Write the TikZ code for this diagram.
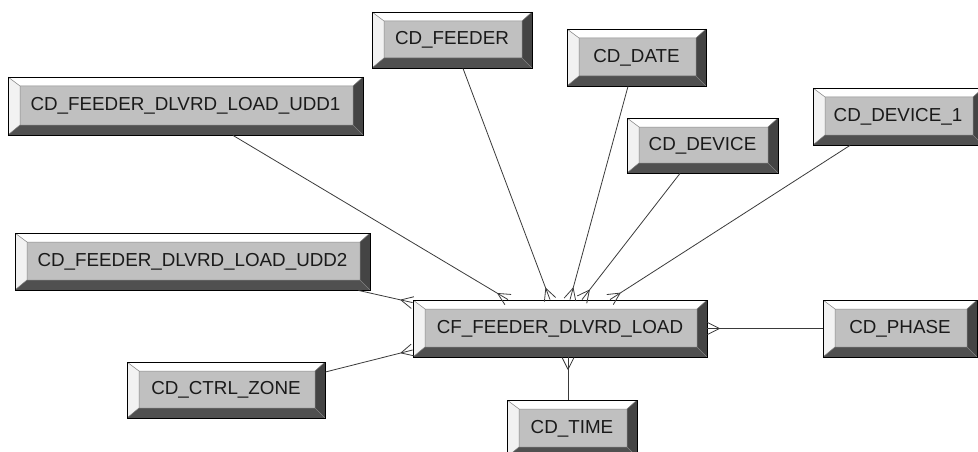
\documentclass[tikz,border=0pt]{standalone}
\usepackage{fontspec}
\setmainfont{Liberation Sans}
\usetikzlibrary{decorations.markings}

\definecolor{facegray}{HTML}{C0C0C0}
\definecolor{topbevel}{HTML}{FFFFFF}
\definecolor{leftbevel}{HTML}{F2F2F2}
\definecolor{botbevel}{HTML}{505050}
\definecolor{rightbevel}{HTML}{444444}
\definecolor{linegray}{HTML}{3A3A3A}
\definecolor{txtgray}{HTML}{1A1A1A}

\tikzset{
  entity/.style={draw=black, line width=0.8pt, fill=facegray, inner sep=0pt,
    text=txtgray, font=\fontsize{18.8pt}{22pt}\selectfont,
    path picture={
      \coordinate (bnw) at (path picture bounding box.north west);
      \coordinate (bne) at (path picture bounding box.north east);
      \coordinate (bsw) at (path picture bounding box.south west);
      \coordinate (bse) at (path picture bounding box.south east);
      \coordinate (inw) at ([xshift=12pt,yshift=-9pt]bnw);
      \coordinate (ine) at ([xshift=-10pt,yshift=-9pt]bne);
      \coordinate (isw) at ([xshift=12pt,yshift=10pt]bsw);
      \coordinate (ise) at ([xshift=-10pt,yshift=10pt]bse);
      % bevels
      \fill[topbevel] (bnw) -- (bne) -- (ine) -- (inw) -- cycle;
      \fill[leftbevel] (bnw) -- (inw) -- (isw) -- (bsw) -- cycle;
      \fill[botbevel] (bsw) -- (isw) -- (ise) -- (bse) -- cycle;
      \fill[rightbevel] (bne) -- (ine) -- (ise) -- (bse) -- cycle;
      \draw[gray, line width=0.5pt] (inw) rectangle (ise)
        (bnw) -- (inw) (bne) -- (ine) (bsw) -- (isw) (bse) -- (ise);
    }},
  rel/.style={draw=linegray, line width=0.8pt, postaction={decorate},
    decoration={markings, mark=at position 1 with {
      \draw[linegray, line width=0.8pt] (-12pt,0pt) -- (0pt,6pt)
        (-12pt,0pt) -- (0pt,-6pt);}}}
}

\begin{document}
\begin{tikzpicture}[x=1pt,y=-1pt]

  \useasboundingbox (0,0) rectangle (978,452);

  % entities
  \node[entity, minimum width=355pt, minimum height=58pt] (udd1) at (185.5,106) {CD\_FEEDER\_DLVRD\_LOAD\_UDD1};
  \node[entity, minimum width=160pt, minimum height=56pt] (feeder) at (452,40) {CD\_FEEDER};
  \node[entity, minimum width=139pt, minimum height=57pt] (date) at (636.5,57.5) {CD\_DATE};
  \node[entity, minimum width=151pt, minimum height=55pt] (device) at (702.5,145.5) {CD\_DEVICE};
  \node[entity, minimum width=170pt, minimum height=57pt] (device1) at (898,116.5) {CD\_DEVICE\_1};
  \node[entity, minimum width=355pt, minimum height=57pt] (udd2) at (192.5,261.5) {CD\_FEEDER\_DLVRD\_LOAD\_UDD2};
  \node[entity, minimum width=294pt, minimum height=57pt] (load) at (560,328.5) {CF\_FEEDER\_DLVRD\_LOAD};
  \node[entity, minimum width=154pt, minimum height=57pt] (phase) at (900,328.5) {CD\_PHASE};
  \node[entity, minimum width=198pt, minimum height=56pt] (zone) at (226,390) {CD\_CTRL\_ZONE};
  \node[entity, minimum width=130pt, minimum height=57pt] (time) at (572,428.5) {CD\_TIME};

  % relations
  \draw[rel] ([xshift=47.5pt]udd1.south) -- ([xshift=-52pt]load.north);
  \draw[rel] ([xshift=11pt]feeder.south) -- ([xshift=-10pt]load.north);
  \draw[rel] ([xshift=-8.5pt]date.south) -- ([xshift=10pt]load.north);
  \draw[rel] ([xshift=-22.5pt]device.south) -- ([xshift=22pt]load.north);
  \draw[rel] ([xshift=-48pt]device1.south) -- ([xshift=50pt]load.north);
  \draw[rel] ([xshift=-12pt]udd2.south east) -- ([yshift=-3pt]load.north west);
  \draw[rel] ([yshift=18pt]zone.east) -- ([yshift=-21.5pt]load.west);
  \draw[rel] (phase.west) -- (load.east);
  \draw[rel] ([xshift=-4pt]time.north) -- ([xshift=8pt]load.south);

\end{tikzpicture}
\end{document}
